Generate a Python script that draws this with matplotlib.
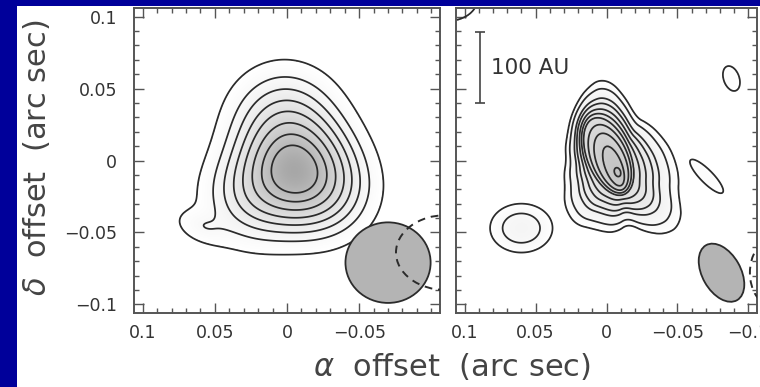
import numpy as np
import matplotlib.pyplot as plt
from matplotlib.patches import Ellipse, Rectangle
from matplotlib.colors import LinearSegmentedColormap
from matplotlib.ticker import MultipleLocator, FuncFormatter

# left map: Gaussian components (arcsec): centre, peak, sigmas, angle (deg)
left_x0 = [-0.005, 0.002, 0.026, -0.028, 0.060]
left_y0 = [-0.007, 0.028, -0.026, -0.022, -0.046]
left_amp = [1.0, 0.30, 0.22, 0.22, 0.09]
left_sa = [0.022, 0.022, 0.020, 0.020, 0.012]
left_sb = [0.022, 0.022, 0.020, 0.020, 0.007]
left_pa = [0, 0, 0, 0, 20]
left_levels = [0.05, 0.13, 0.22, 0.33, 0.46, 0.62, 0.80, 0.98]

# right map: peak position and radius (arcsec) of the lowest contour versus position angle
right_peak = (-0.0078, -0.0081)
outer_ang = [12.7, 37.9, 56.5, 70.8, 82.4, 93.1, 107.8, 142.3, 168.6, 199.4,
             219.1, 230.2, 244.9, 257.4, 272.5, 295.1, 309.7, 327.0, 344.2]
outer_rad = [0.0367, 0.0441, 0.0540, 0.0626, 0.0667, 0.0542, 0.0400, 0.0394, 0.0410, 0.0448,
             0.0569, 0.0558, 0.0452, 0.0360, 0.0419, 0.0429, 0.0467, 0.0439, 0.0382]
# inner contours as ellipses: centre offset from peak, semi-axes, angle
inner_dx = [0.0063, 0.0029, 0.0]
inner_dy = [0.0109, 0.0042, 0.0]
inner_a = [0.0285, 0.0146, 0.0032]
inner_b = [0.015, 0.006, 0.0022]
inner_pa = [67.4, 69, 70]
table_levels = [0.0, 0.51, 0.84, 0.95]
right_levels = [0.0, 0.10, 0.22, 0.29, 0.37, 0.44, 0.51, 0.59, 0.69, 0.84, 0.95]
# weaker knots in the right map: centre, peak, half-axes, angle
knot_x0 = [0.060, -0.088, -0.0705, 0.112]
knot_y0 = [-0.047, 0.057, -0.011, 0.112]
knot_peak = [0.156, 0.05, 0.05, 0.05]
knot_a = [0.022, 0.009, 0.016, 0.021]
knot_b = [0.017, 0.0055, 0.0045, 0.015]
knot_pa = [0, 70, 45, 0]

# beams: x, y, width, height, angle
beam_left = (-0.070, -0.071, 0.059, 0.056, 0)
beam_left_dash = (-0.110, -0.064, 0.069, 0.052, 0)
beam_right = (-0.081, -0.078, 0.044, 0.027, 60)
beam_right_dash = (-0.116, -0.078, 0.030, 0.045, 0)

lim = 0.106
grid = np.linspace(-lim, lim, 400)
X, Y = np.meshgrid(grid, grid)
TH = np.arange(360.0)


def rot(x0, y0, pa):
    t = np.radians(pa)
    u = (X - x0) * np.cos(t) + (Y - y0) * np.sin(t)
    v = -(X - x0) * np.sin(t) + (Y - y0) * np.cos(t)
    return u, v


def gauss_field():
    z = np.zeros_like(X)
    for x0, y0, a, sa, sb, pa in zip(left_x0, left_y0, left_amp, left_sa, left_sb, left_pa):
        u, v = rot(x0, y0, pa)
        z += a * np.exp(-0.5 * ((u / sa) ** 2 + (v / sb) ** 2))
    return z


def outer_table():
    r = np.interp(TH, outer_ang, outer_rad, period=360)
    r = np.convolve(np.concatenate([r[-7:], r, r[:7]]), np.ones(15) / 15, mode='valid')
    return r


def ellipse_table(cx, cy, a, b, pa):
    # distance from the peak to the ellipse along each direction
    p = np.radians(pa)
    px = -cx * np.cos(p) - cy * np.sin(p)
    py = cx * np.sin(p) - cy * np.cos(p)
    dx = np.cos(np.radians(TH) - p)
    dy = np.sin(np.radians(TH) - p)
    A = dx ** 2 / a ** 2 + dy ** 2 / b ** 2
    B = 2 * (px * dx / a ** 2 + py * dy / b ** 2)
    C = px ** 2 / a ** 2 + py ** 2 / b ** 2 - 1
    return (-B + np.sqrt(B ** 2 - 4 * A * C)) / (2 * A)


def contour_field():
    dx, dy = X - right_peak[0], Y - right_peak[1]
    d = np.hypot(dx, dy)
    ang = np.degrees(np.arctan2(dy, dx)) % 360
    tables = [outer_table()]
    for e in zip(inner_dx, inner_dy, inner_a, inner_b, inner_pa):
        tables.append(np.minimum(ellipse_table(*e), tables[-1] * 0.95))
    rs = [np.interp(ang, TH, r, period=360) for r in tables] + [np.zeros_like(d)]
    zs = table_levels + [1.0]
    z = -(d - rs[0]) / rs[0]
    for k in range(len(rs) - 1):
        m = (d < rs[k]) & (d >= rs[k + 1])
        z = np.where(m, zs[k] + (zs[k + 1] - zs[k]) * (rs[k] - d) / (rs[k] - rs[k + 1]), z)
    for x0, y0, p, a, b, pa in zip(knot_x0, knot_y0, knot_peak, knot_a, knot_b, knot_pa):
        u, v = rot(x0, y0, pa)
        z = np.maximum(z, p * (1 - (u / a) ** 2 - (v / b) ** 2))
    return z


cmap = LinearSegmentedColormap.from_list('g', ['white', '#8a8a8a'])
line_col = '#2b2b2b'
frame_col = '#555555'


def fmt(v, pos):
    if abs(v) < 1e-9:
        return '0'
    return ('%g' % v).replace('-', '\u2212')


fig = plt.figure(figsize=(7.6, 3.87), dpi=100)
fig.patch.set_facecolor('#00009a')
fig.add_artist(Rectangle((17 / 760, 0), 1, 1 - 6 / 387, transform=fig.transFigure,
                         facecolor='white', edgecolor='none', zorder=0))

ax1 = fig.add_axes([134 / 760, 74 / 387, 306 / 760, 305 / 387])
ax2 = fig.add_axes([456 / 760, 74 / 387, 301 / 760, 305 / 387])

panels = [
    (ax1, gauss_field(), left_levels, 0.05, 1.6, beam_left, beam_left_dash),
    (ax2, contour_field(), right_levels, 0.0, 1.9, beam_right, beam_right_dash),
]

for ax, z, levels, vmin, vmax, beam, dash in panels:
    img = np.ma.masked_less(z, levels[0])
    ax.imshow(img, extent=[-lim, lim, -lim, lim], origin='lower', cmap=cmap,
              vmin=vmin, vmax=vmax, interpolation='bilinear', zorder=1)
    ax.contour(X, Y, z, levels=levels, colors=line_col, linewidths=1.25, zorder=2)
    bx, by, bw, bh, ba = beam
    ax.add_patch(Ellipse((bx, by), bw, bh, angle=ba, facecolor='#b4b4b4',
                         edgecolor=line_col, lw=1.3, zorder=3))
    dx, dy, dw, dh, da = dash
    ax.add_patch(Ellipse((dx, dy), dw, dh, angle=da, facecolor='none',
                         edgecolor=line_col, lw=1.4, ls=(0, (4, 3)), zorder=4))
    ax.set_xlim(lim, -lim)
    ax.set_ylim(-lim, lim)
    ax.set_aspect('auto')
    ax.xaxis.set_major_locator(MultipleLocator(0.05))
    ax.xaxis.set_minor_locator(MultipleLocator(0.01))
    ax.yaxis.set_major_locator(MultipleLocator(0.05))
    ax.yaxis.set_minor_locator(MultipleLocator(0.01))
    ax.xaxis.set_major_formatter(FuncFormatter(fmt))
    ax.yaxis.set_major_formatter(FuncFormatter(fmt))
    ax.tick_params(which='both', direction='in', top=True, right=True, color=frame_col,
                   labelcolor='#333333', labelsize=12.5, width=1.0)
    ax.tick_params(which='major', length=7, pad=8)
    ax.tick_params(which='minor', length=3.5)
    for s in ax.spines.values():
        s.set_color(frame_col)
        s.set_linewidth(1.4)

ax1.set_xticks([0.1, 0.05, 0, -0.05])
ax1.tick_params(axis='y', pad=12)
ax2.tick_params(labelleft=False)

# 100 AU scale bar
ax2.errorbar([0.089], [0.0645], yerr=[0.0245], color='#444444', capsize=3.5, lw=1.2, capthick=1.2)
ax2.text(0.081, 0.064, '100 AU', fontsize=15.5, color='#333333', va='center', ha='left')

fig.text(452 / 760, 1 - 366 / 387, r'$\alpha$  offset  (arc sec)', fontsize=22,
         color='#444444', ha='center', va='center')
fig.text(37 / 760, 1 - 158 / 387, r'$\delta$  offset  (arc sec)', fontsize=22,
         color='#444444', ha='center', va='center', rotation=90)

fig.savefig('out.png', dpi=100, facecolor=fig.get_facecolor())
